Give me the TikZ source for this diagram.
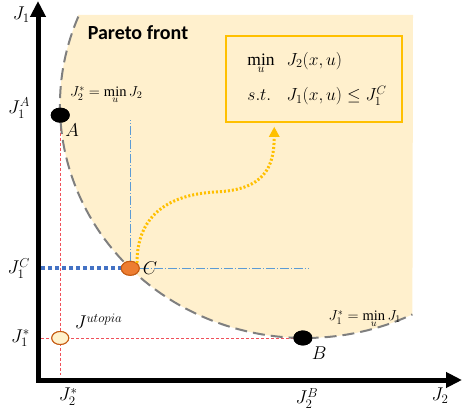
\RequirePackage{fix-cm}
\documentclass[tikz,border=0pt]{standalone}
\usepackage{fontspec}
\setmainfont{Liberation Serif}
\newfontfamily\calibfont{Carlito}
\usepackage{tikz}
\usetikzlibrary{arrows.meta,calc,positioning,shapes.geometric}

\definecolor{paretofill}{HTML}{FFF0CD}
\definecolor{frontgray}{HTML}{7F7F7F}
\definecolor{boxgold}{HTML}{FFC000}
\definecolor{cblue}{HTML}{4472C4}
\definecolor{guideblue}{HTML}{5B9BD5}
\definecolor{ptorange}{HTML}{ED7D31}
\definecolor{ptbrown}{HTML}{C55A11}
\definecolor{utopfill}{HTML}{FFF2CC}
\definecolor{reddash}{HTML}{F0505A}

\begin{document}
\begin{tikzpicture}[x=1pt,y=1pt,
  axis/.style={line width=5pt,{Triangle[length=16pt,width=15pt]}-{Triangle[length=16pt,width=15pt]}},
  front/.style={draw=frontgray,line width=2pt,dash pattern=on 12pt off 6pt},
  ptnode/.style={ellipse,inner sep=0pt,minimum width=19pt,minimum height=15pt},
  blackpt/.style={ptnode,fill=black},
  cpt/.style={ptnode,fill=ptorange,draw=ptbrown,line width=1pt,minimum width=18pt,minimum height=14pt},
  utoppt/.style={ptnode,fill=utopfill,draw=ptbrown,line width=1pt,minimum width=17pt,minimum height=13pt},
  lbl/.style={font=\fontsize{18.5}{21}\selectfont,inner sep=1pt},
  annot/.style={font=\fontsize{14.5}{16}\selectfont,inner sep=1pt},
  guideline/.style={guideblue,line width=0.8pt,dash pattern=on 9pt off 2pt on 1pt off 2pt},
  proj/.style={reddash,line width=0.8pt,dash pattern=on 3pt off 2pt},
  clevel/.style={cblue,line width=4pt,dash pattern=on 4pt off 3pt},
  ctrace/.style={boxgold,line width=3pt,dash pattern=on 2pt off 2pt,-{Triangle[length=10pt,width=10pt]}},
]
\useasboundingbox (0,0) rectangle (463,416);

% axes and centre of the front
\coordinate (O) at (38,36);
\coordinate (ytip) at (38,415);
\coordinate (xtip) at (462,36);
\coordinate (E) at (305,311);

% the feasible region
\fill[paretofill] ($(E)+(157.7:245pt and 233pt)$)
  arc[start angle=157.7,end angle=296,x radius=245pt,y radius=233pt]
  -- (413,401) -- (78,401) -- cycle;
\node[font=\calibfont\bfseries\fontsize{20}{22}\selectfont] (ptitle) at (138,383) {Pareto front};

% the subproblem
\node[draw=boxgold,line width=1.5pt,fill=paretofill,minimum width=176pt,minimum height=86pt,inner sep=0pt,
  font=\fontsize{17.5}{20}\selectfont] (cbox) at (314,337)
  {\hspace*{6pt}\begin{tabular}{@{}l@{\hspace{12pt}}l@{}}
   $\min\limits_{u}$ & $J_2(x,u)$\\[15pt]
   $s.t.$ & $J_1(x,u)\le J_1^C$
   \end{tabular}};

% the points
\node[blackpt] (A) at ($(E)+(182.5:245pt and 233pt)$) {};
\node[cpt] (C) at ($(E)+(224.5:245pt and 233pt)$) {};
\node[blackpt] (B) at ($(E)+(269.5:245pt and 233pt)$) {};
\node[utoppt] (U) at (A |- B) {};

% guide lines
\coordinate (ctop) at ($(C)+(0,148)$);
\coordinate (cright) at ($(C)+(178,0)$);
\draw[guideline] (C) -- (ctop);
\draw[guideline] (C) -- (cright);
\draw[proj] (A) -- ($(A |- O)+(0,5)$);
\draw[proj] ($(O |- B)+(3,0)$) -- (B);
\draw[clevel] ($(O |- C)+(3,0)$) -- (C);

% the front
\draw[front] ($(E)+(157.7:245pt and 233pt)$)
  arc[start angle=157.7,end angle=296,x radius=245pt,y radius=233pt];

% redraw the points on top
\node[blackpt] at (A) {};
\node[cpt] at (C) {};
\node[blackpt] at (B) {};
\node[utoppt] at (U) {};

% from C to the subproblem
\coordinate (cmid) at (215,224);
\coordinate (ctip) at ($(cbox.south west)+(49,-4)$);
\draw[ctrace] (C.north east) .. controls +(0,45) and +(-50,-3) .. (cmid)
  .. controls +(50,2) and +(0,-40) .. (ctip);

% axes
\draw[axis] (ytip) -- (O) -- (xtip);

% labels
\node[lbl,anchor=east] (j1) at ($(ytip)+(-7,-14)$) {$J_1$};
\node[lbl,anchor=east] (j1a) at ($(O |- A)+(-7,7)$) {$J_1^A$};
\node[lbl,anchor=east] (j1c) at ($(O |- C)+(-7,0)$) {$J_1^C$};
\node[lbl,anchor=east] (j1s) at ($(O |- U)+(-7,0)$) {$J_1^*$};
\node[lbl,anchor=north] (j2s) at ($(U |- O)+(8,-7)$) {$J_2^*$};
\node[lbl,anchor=north] (j2b) at ($(B |- O)+(4,-7)$) {$J_2^B$};
\node[lbl,anchor=north] (j2) at ($(xtip)+(-22,-7)$) {$J_2$};

\node[lbl,below right=2pt and -3pt of A] (la) {$A$};
\node[lbl,right=2pt of C] (lc) {$C$};
\node[lbl,below right=2pt and 1pt of B] (lb) {$B$};
\node[lbl,above right=3pt and 7pt of U] (lu) {$J^{utopia}$};

\node[annot] (j2min) at ($(A)+(46,20)$) {$J_2^* = \min\limits_{u} J_2$};
\node[annot] (j1min) at ($(B)+(62,19)$) {$J_1^* = \min\limits_{u} J_1$};
\end{tikzpicture}
\end{document}
